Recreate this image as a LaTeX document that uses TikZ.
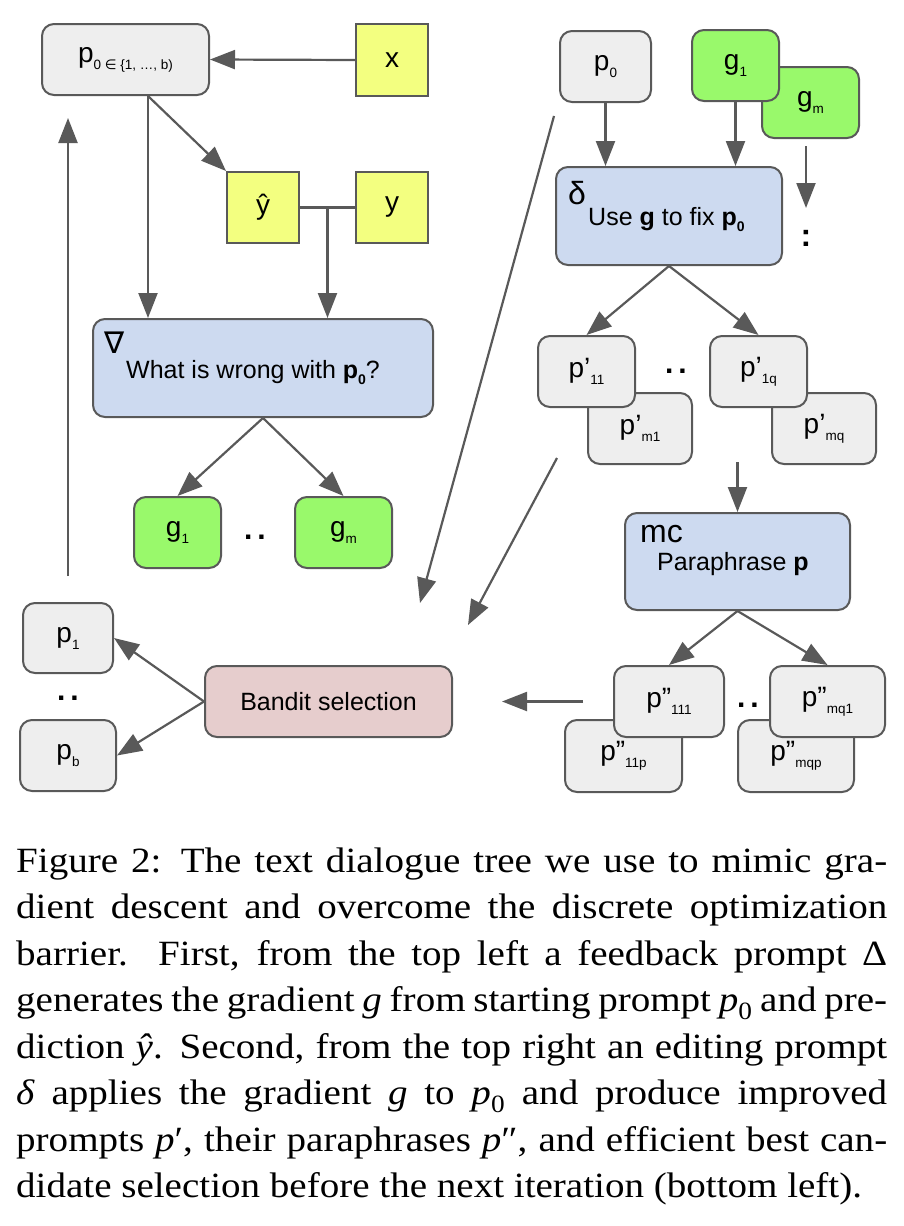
\documentclass[tikz,border=0pt]{standalone}
\usepackage{fontspec}
\setmainfont{Liberation Serif}
\setsansfont{Liberation Sans}
\newfontfamily\djv{DejaVu Sans}
\newfontfamily\capfont[FakeStretch=1.1]{Liberation Serif}
\usetikzlibrary{arrows.meta,calc}
\definecolor{bordc}{HTML}{595959}
\definecolor{grayf}{HTML}{EEEEEE}
\definecolor{greenf}{HTML}{99F96B}
\definecolor{yellowf}{HTML}{F3FF80}
\definecolor{bluef}{HTML}{CDDAF0}
\definecolor{pinkf}{HTML}{E6CDCD}
\newcommand{\lbl}[2]{{\fontsize{28}{30}\selectfont #1}\raisebox{-7pt}{\fontsize{13.5}{15}\selectfont #2}}
\newcommand{\txtsize}{\fontsize{25}{28}\selectfont}
\newcommand{\sbs}[1]{\raisebox{-6pt}{\fontsize{14}{16}\selectfont #1}}
\begin{document}
\begin{tikzpicture}[x=1pt,y=-1pt,
  box/.style={draw=bordc, line width=2pt, rounded corners=12pt, inner sep=0pt, font=\sffamily},
  gbox/.style={box, fill=grayf},
  grbox/.style={box, fill=greenf},
  ybox/.style={draw=bordc, line width=2pt, inner sep=0pt, fill=yellowf, font=\sffamily},
  bbox/.style={box, fill=bluef},
  pbox/.style={box, fill=pinkf},
  conn/.style={draw=bordc, line width=2.2pt},
  arr/.style={conn, -{Triangle[length=25pt,width=19pt]}},
  dotsn/.style={inner sep=0pt, font=\sffamily\bfseries\fontsize{30}{32}\selectfont},
  btxt/.style={inner sep=0pt, font=\sffamily\txtsize, anchor=base west},
  sym/.style={inner sep=0pt, font=\fontsize{32}{34}\selectfont}
]
\useasboundingbox (0,0) rectangle (904,1226);

% ---------- left part ----------
\node[gbox, minimum width=167, minimum height=71] (P0L) at (125.5,59.5)
  {\lbl{p}{0 {\djv ∈} \{1, …, b)}};
\node[ybox, minimum width=72, minimum height=72] (X) at (392,60) {\fontsize{28}{30}\selectfont x};
\node[ybox, minimum width=72, minimum height=71] (YH) at (263,207.5) {\fontsize{28}{30}\selectfont ŷ};
\node[ybox, minimum width=72, minimum height=71] (Y) at (392,207.5) {\fontsize{28}{30}\selectfont y};
\node[bbox, minimum width=340, minimum height=98] (NAB) at (263,368) {};
\node[sym, font=\djv\fontsize{30}{32}\selectfont] (nabla) at (115,343) {∇};
\node[btxt] (nabt) at (126,378) {What is wrong with \textbf{p\sbs{0}}?};
\node[grbox, minimum width=87, minimum height=71] (G1L) at (177.5,532.5) {\lbl{g}{1}};
\node[grbox, minimum width=97, minimum height=71] (GML) at (343.5,532.5) {\lbl{g}{m}};
\node[dotsn] (dots1) at (255,537) {.\kern5pt.};

\draw[arr] (X.west) -- (P0L.east);
\coordinate (c1) at ([xshift=22.5pt]P0L.south);
\draw[arr] (c1) -- (YH.north west);
\draw[arr] (c1) -- (c1 |- NAB.north);
\draw[conn] (YH.east) -- (Y.west);
\coordinate (J) at ($(YH.east)!0.5!(Y.west)$);
\draw[arr] (J) -- (J |- NAB.north);
\draw[arr] (NAB.south) -- (G1L.north);
\draw[arr] (NAB.south) -- (GML.north);
\coordinate (ub) at (68,576);
\coordinate (ut) at (68,118);
\draw[arr] (ub) -- (ut);

% ---------- right part ----------
\node[gbox, minimum width=91, minimum height=71] (P0R) at (605.5,66.5) {\lbl{p}{0}};
\node[grbox, minimum width=97, minimum height=71] (GMR) at (810.5,102.5) {\lbl{g}{m}};
\node[grbox, minimum width=87, minimum height=71] (G1R) at (735.5,65.5) {\lbl{g}{1}};
\node[bbox, minimum width=226, minimum height=98] (DEL) at (669,216) {};
\node[sym, font=\sffamily\fontsize{32}{34}\selectfont] (delta) at (577,193) {δ};
\node[btxt] (delt) at (588,225) {Use \textbf{g} to fix \textbf{p\sbs{0}}};
\draw[arr] (P0R.south) -- (P0R.south |- DEL.north);
\draw[arr] (G1R.south) -- (G1R.south |- DEL.north);
\coordinate (gmA) at (806,146);
\coordinate (gmB) at (806,208);
\draw[arr] (gmA) -- (gmB);
\node[dotsn, font=\sffamily\bfseries\fontsize{32}{34}\selectfont] (colon) at (806,238) {:};

\node[gbox, minimum width=104, minimum height=71] (PM1) at (640,428.5) {\lbl{p’}{m1}};
\node[gbox, minimum width=97, minimum height=71] (P11) at (586.5,371.5) {\lbl{p’}{11}};
\node[gbox, minimum width=104, minimum height=71] (PMQ) at (824,428.5) {\lbl{p’}{mq}};
\node[gbox, minimum width=97, minimum height=71] (P1Q) at (758.5,371.5) {\lbl{p’}{1q}};
\node[dotsn] (dots2) at (676,371) {.\kern5pt.};
\draw[arr] (DEL.south) -- (P11.north);
\draw[arr] (DEL.south) -- (P1Q.north);

\node[bbox, minimum width=225, minimum height=97] (MC) at (737.5,561.5) {};
\node[inner sep=0pt, anchor=base west, font=\sffamily\fontsize{32}{34}\selectfont] (mct) at (640,542) {mc};
\node[btxt] (mctx) at (657,570) {Paraphrase \textbf{p}};
\coordinate (mcT) at (737.5,462);
\draw[arr] (mcT) -- (MC.north);

\node[gbox, minimum width=117, minimum height=72] (Q11P) at (623.5,756) {\lbl{p”}{11p}};
\node[gbox, minimum width=110, minimum height=71] (Q111) at (669,701.5) {\lbl{p”}{111}};
\node[gbox, minimum width=116, minimum height=72] (QMQP) at (796,756) {\lbl{p”}{mqp}};
\node[gbox, minimum width=115, minimum height=71] (QMQ1) at (827.5,701.5) {\lbl{p”}{mq1}};
\node[dotsn] (dots3) at (748,705) {.\kern5pt.};
\draw[arr] (MC.south) -- (Q111.north);
\draw[arr] (MC.south) -- (QMQ1.north);

% ---------- bottom left ----------
\node[pbox, minimum width=247, minimum height=71] (BAN) at (328.5,701.5)
  {\txtsize Bandit selection};
\node[gbox, minimum width=90, minimum height=70] (P1) at (68,638) {\lbl{p}{1}};
\node[gbox, minimum width=96, minimum height=71] (PB) at (68,755.5) {\lbl{p}{b}};
\node[dotsn] (dots4) at (68,698) {.\kern5pt.};
\draw[arr] ([xshift=-30pt]Q111.west) -- ([xshift=49pt]BAN.east);
\draw[arr] (BAN.west) -- (P1.east);
\draw[arr] (BAN.west) -- (PB.east);

\coordinate (l1a) at (554,116);
\coordinate (l1b) at (420,603);
\coordinate (l2a) at (557,458);
\coordinate (l2b) at (468,625);
\draw[arr] (l1a) -- (l1b);
\draw[arr] (l2a) -- (l2b);

% ---------- caption ----------
\node[inner sep=0pt, anchor=base west, text width=871pt, align=justify,
      font=\capfont\fontsize{35.5}{46.5}\selectfont] (cap) at (16,872)
{\tolerance=10000\emergencystretch=20pt\hyphenpenalty=10000
Figure 2: The text dialogue tree we use to mimic gra-\linebreak
dient descent and overcome the discrete optimization\linebreak
barrier. First, from the top left a feedback prompt Δ\linebreak
generates the gradient \textit{g} from starting prompt \textit{p}\textsubscript{0} and pre-\linebreak
diction \textit{ŷ}. Second, from the top right an editing prompt\linebreak
\textit{δ} applies the gradient \textit{g} to \textit{p}\textsubscript{0} and produce improved\linebreak
prompts \textit{p}′, their paraphrases \textit{p}″, and efficient best can-\linebreak
didate selection before the next iteration (bottom left).};
\end{tikzpicture}
\end{document}
